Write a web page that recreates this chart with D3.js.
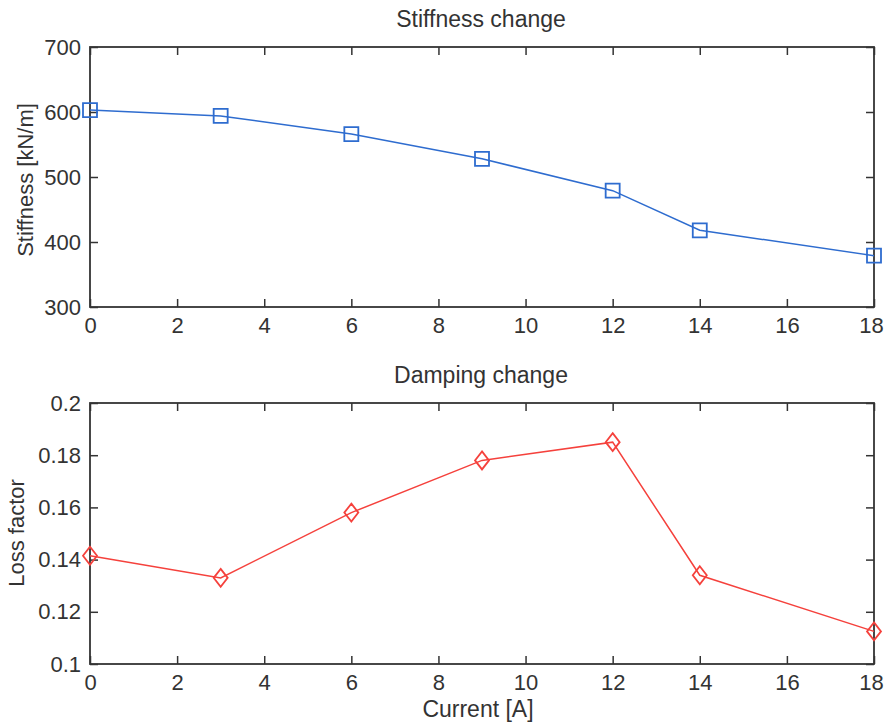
<!DOCTYPE html>
<html>
<head>
<meta charset="utf-8">
<script src="https://cdn.jsdelivr.net/npm/d3@7"></script>
<style>
  body { margin: 0; background: #fff; }
  svg text { font-family: "Liberation Sans", Arial, sans-serif; fill: #333; }
</style>
</head>
<body>
<div id="chart"></div>
<script>
// data
const current = [0, 3, 6, 9, 12, 14, 18];
const stiffness = [603, 594, 566, 528, 479, 418, 379];
const lossFactor = [0.1415, 0.133, 0.158, 0.178, 0.185, 0.134, 0.1125];
const xTicks = [0, 2, 4, 6, 8, 10, 12, 14, 16, 18];
const stiffTicks = [300, 400, 500, 600, 700];
const lossTicks = [0.1, 0.12, 0.14, 0.16, 0.18, 0.2];

const W = 885, H = 727;
const svg = d3.select("#chart").append("svg")
    .attr("width", W)
    .attr("height", H);

const left = 90, right = 874;

// draws one matlab-style panel
function panel(cfg) {
    let x = d3.scaleLinear().domain([0, 18]).range([left, right]);
    let y = d3.scaleLinear().domain(cfg.domain).range([cfg.bottom, cfg.top]);
    let g = svg.append("g");

    // ticks inward on all four sides
    let xb = g.append("g")
        .attr("transform", `translate(0,${cfg.bottom})`)
        .call(d3.axisBottom(x).tickValues(xTicks).tickSizeInner(-8).tickSizeOuter(0).tickPadding(10).tickFormat(d3.format("d")));
    g.append("g")
        .attr("transform", `translate(0,${cfg.top})`)
        .call(d3.axisTop(x).tickValues(xTicks).tickSizeInner(-8).tickSizeOuter(0).tickFormat(""));
    g.append("g")
        .attr("transform", `translate(${left},0)`)
        .call(d3.axisLeft(y).tickValues(cfg.ticks).tickSizeInner(-8).tickSizeOuter(0).tickPadding(9).tickFormat(cfg.fmt));
    g.append("g")
        .attr("transform", `translate(${right},0)`)
        .call(d3.axisRight(y).tickValues(cfg.ticks).tickSizeInner(-8).tickSizeOuter(0).tickFormat(""));

    g.selectAll(".domain").remove();
    g.selectAll(".tick line").attr("stroke", "#333").attr("stroke-width", 1.5);
    g.selectAll(".tick text").style("font-size", "22px");
    // keep the last label inside the page
    xb.selectAll(".tick text").filter(d => d === 18).attr("dx", -3);

    g.append("rect")
        .attr("x", left).attr("y", cfg.top)
        .attr("width", right - left).attr("height", cfg.bottom - cfg.top)
        .attr("fill", "none").attr("stroke", "#333").attr("stroke-width", 1.8);

    let pts = current.map((c, i) => [x(c), y(cfg.values[i])]);

    g.append("path")
        .attr("d", d3.line()(pts))
        .attr("fill", "none")
        .attr("stroke", cfg.color)
        .attr("stroke-width", 1.5);

    g.selectAll(".marker")
        .data(pts)
        .enter()
        .append("path")
        .attr("class", "marker")
        .attr("transform", d => `translate(${d[0]},${d[1]})`)
        .attr("d", cfg.marker)
        .attr("fill", "none")
        .attr("stroke", cfg.color)
        .attr("stroke-width", 1.8);

    g.append("text")
        .attr("x", (left + right) / 2 - 1)
        .attr("y", cfg.top - 20)
        .attr("text-anchor", "middle")
        .style("font-size", "23px")
        .text(cfg.title);

    g.append("text")
        .attr("transform", `translate(${cfg.ylabelX},${cfg.ylabelY}) rotate(-90)`)
        .attr("text-anchor", "middle")
        .style("font-size", "22px")
        .text(cfg.ylabel);

    return x;
}

panel({
    top: 47, bottom: 307,
    domain: [300, 700], ticks: stiffTicks, fmt: d3.format("d"),
    values: stiffness, color: "#2e6ccf",
    marker: "M-7,-7H7V7H-7Z",
    title: "Stiffness change", ylabel: "Stiffness [kN/m]", ylabelX: 33, ylabelY: 180
});

panel({
    top: 403, bottom: 664,
    domain: [0.1, 0.2], ticks: lossTicks, fmt: d => d3.format("")(+d.toFixed(2)),
    values: lossFactor, color: "#f5413c",
    marker: "M0,-9L7,0L0,9L-7,0Z",
    title: "Damping change", ylabel: "Loss factor", ylabelX: 24, ylabelY: 533
});

svg.append("text")
    .attr("x", 478)
    .attr("y", 717)
    .attr("text-anchor", "middle")
    .style("font-size", "23px")
    .text("Current [A]");
</script>
</body>
</html>
